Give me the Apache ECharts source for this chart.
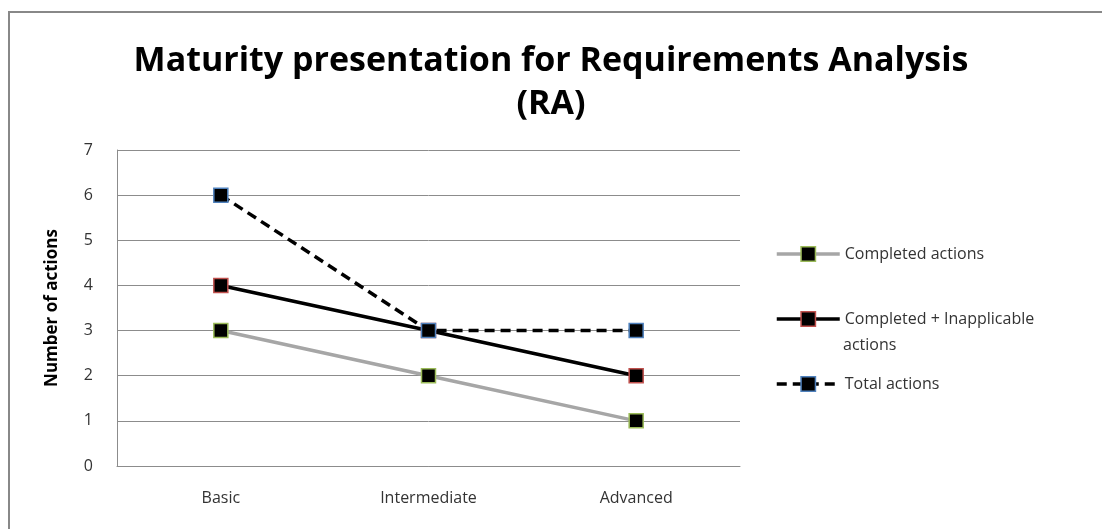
<!DOCTYPE html>
<html>
<head>
<meta charset="utf-8">
<script src="https://cdn.jsdelivr.net/npm/echarts@6/dist/echarts.min.js"></script>
<style>
  html, body { margin: 0; padding: 0; background: #fff; }
  #chart { width: 1102px; height: 529px; }
</style>
</head>
<body>
<div id="chart"></div>
<script>
// Maturity levels and action counts
const levels = ['Basic', 'Intermediate', 'Advanced'];
const completedActions = [3, 2, 1];
const completedPlusInapplicable = [4, 3, 2];
const totalActions = [6, 3, 3];
const yTicks = { min: 0, max: 7, interval: 1 };

const seriesNames = ['Completed actions', 'Completed + Inapplicable actions', 'Total actions'];
const legendLabels = ['Completed actions', 'Completed + Inapplicable', 'Total actions'];
const legendTops = [246, 311, 376];

const font = '"Open Sans", "Noto Sans", sans-serif';
const gridColor = '#8c8c8c';
const textColor = '#333';

const chart = echarts.init(document.getElementById('chart'), null, { renderer: 'canvas' });

function markerStyle(border) {
  return { color: '#000', borderColor: border, borderWidth: 1.5 };
}

const lineStyles = [
  { color: '#a6a6a6', width: 3.5 },
  { color: '#000', width: 3.5 },
  { color: '#000', width: 3.5, type: [10, 6] }
];
const markerBorders = ['#9bbb59', '#c0504d', '#4f81bd'];

const option = {
  backgroundColor: '#fff',
  animation: false,
  title: {
    text: 'Maturity presentation for Requirements Analysis\n(RA)',
    left: 'center',
    top: 35,
    textStyle: {
      fontFamily: font,
      fontWeight: 'bold',
      fontSize: 34,
      lineHeight: 43,
      color: '#000'
    }
  },
  legend: legendTops.map((t, i) => ({
    data: [seriesNames[i]],
    orient: 'vertical',
    left: 775,
    top: t,
    itemWidth: 63,
    itemHeight: 18,
    itemGap: 0,
    padding: 0,
    formatter: () => legendLabels[i],
    lineStyle: lineStyles[i],
    itemStyle: markerStyle(markerBorders[i]),
    textStyle: {
      fontFamily: font,
      fontSize: 16,
      color: textColor
    },
    selectedMode: false
  })),
  grid: { left: 117, right: 362, top: 150, bottom: 63 },
  xAxis: {
    type: 'category',
    data: levels,
    boundaryGap: true,
    axisLine: { show: true, lineStyle: { color: gridColor, width: 1 } },
    axisTick: { show: false },
    axisLabel: { margin: 24, fontFamily: font, fontSize: 16, color: textColor }
  },
  yAxis: {
    type: 'value',
    min: yTicks.min,
    max: yTicks.max,
    interval: yTicks.interval,
    name: 'Number of actions',
    nameLocation: 'middle',
    nameGap: 56,
    nameRotate: 90,
    nameTextStyle: { fontFamily: font, fontSize: 17, fontWeight: 'bold', color: '#000' },
    axisLine: { show: true, lineStyle: { color: gridColor, width: 1 } },
    axisTick: { show: false },
    axisLabel: { margin: 24, fontFamily: font, fontSize: 16, color: textColor },
    splitLine: { show: true, lineStyle: { color: gridColor, width: 1 } }
  },
  series: [
    {
      name: seriesNames[0],
      type: 'line',
      data: completedActions,
      symbol: 'rect',
      symbolSize: 14,
      lineStyle: lineStyles[0],
      itemStyle: markerStyle(markerBorders[0]),
      z: 2
    },
    {
      name: seriesNames[1],
      type: 'line',
      data: completedPlusInapplicable,
      symbol: 'rect',
      symbolSize: 14,
      lineStyle: lineStyles[1],
      itemStyle: markerStyle(markerBorders[1]),
      z: 3
    },
    {
      name: seriesNames[2],
      type: 'line',
      data: totalActions,
      symbol: 'rect',
      symbolSize: 14,
      lineStyle: lineStyles[2],
      itemStyle: markerStyle(markerBorders[2]),
      z: 4
    }
  ],
  graphic: [
    {
      // chart frame (top and left edges)
      type: 'polyline',
      shape: { points: [[9, 529], [9, 12], [1102, 12]] },
      style: { stroke: '#888', lineWidth: 2, fill: null },
      silent: true
    },
    {
      // wrapped second line of the middle legend entry
      type: 'text',
      left: 843,
      top: 337,
      style: { text: 'actions', font: '16px ' + font, fill: textColor },
      silent: true
    }
  ]
};

chart.setOption(option);
</script>
</body>
</html>
